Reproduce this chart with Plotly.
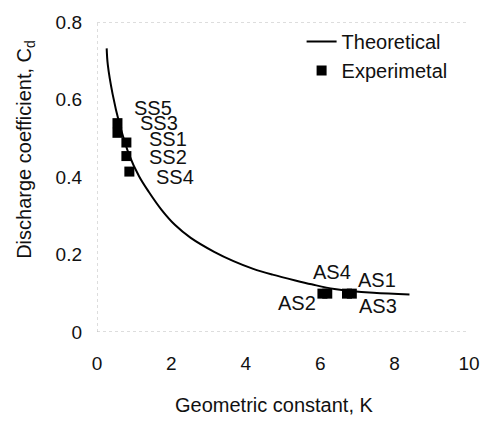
import plotly.graph_objects as go

# Theoretical curve
K_theo = [0.26, 0.29, 0.42, 0.6, 0.87, 1.13, 1.39, 1.73, 2.1, 2.52, 3.15, 3.67,
          4.2, 4.72, 5.33, 5.77, 6.38, 7.43, 8.4]
Cd_theo = [0.732, 0.69, 0.614, 0.539, 0.456, 0.402, 0.362, 0.316, 0.276, 0.243,
           0.207, 0.183, 0.163, 0.148, 0.133, 0.123, 0.111, 0.101, 0.097]

# Experimental points
exp_names = ["SS5", "SS3", "SS1", "SS2", "SS4", "AS2", "AS4", "AS1", "AS3"]
K_exp = [0.55, 0.55, 0.79, 0.79, 0.87, 6.06, 6.19, 6.72, 6.85]
Cd_exp = [0.539, 0.514, 0.489, 0.454, 0.414, 0.099, 0.099, 0.099, 0.099]

# Label positions (text placement)
lab_names = ["SS5", "SS3", "SS1", "SS2", "SS4", "AS4", "AS2", "AS1", "AS3"]
lab_x = [0.945, 1.10, 1.34, 1.34, 1.52, 5.75, 4.80, 6.96, 6.98]
lab_y = [0.577, 0.539, 0.497, 0.451, 0.399, 0.155, 0.075, 0.135, 0.068]

x_ticks = [0, 2, 4, 6, 8, 10]
y_ticks = [0, 0.2, 0.4, 0.6, 0.8]

FONT = "Liberation Sans, Arial, sans-serif"
TXT = "#111111"

fig = go.Figure()
fig.add_trace(go.Scatter(x=K_theo, y=Cd_theo, mode="lines", name="Theoretical",
                         line=dict(color="black", width=2, shape="spline", smoothing=1.0)))
fig.add_trace(go.Scatter(x=K_exp, y=Cd_exp, mode="markers", name="Experimetal",
                         marker=dict(symbol="square", size=10, color="black")))

for n, x, y in zip(lab_names, lab_x, lab_y):
    fig.add_annotation(x=x, y=y, text=n, showarrow=False, xanchor="left",
                       yanchor="middle", font=dict(family=FONT, size=20, color=TXT))

# faint dotted frame lines
for (x0, y0, x1, y1) in [(0, 0, 10, 0), (0, 0, 0, 0.8), (0, 0.8, 10, 0.8)]:
    fig.add_shape(type="line", x0=x0, y0=y0, x1=x1, y1=y1, xref="x", yref="y",
                  line=dict(color="#bbbbbb", width=1, dash="dot"), layer="below")

fig.add_annotation(xref="paper", yref="paper", x=(278 - 97) / 380, y=-(407 - 332) / 319,
                   text="Geometric constant, K", showarrow=False, xanchor="center",
                   yanchor="middle", font=dict(family=FONT, size=20, color=TXT))
fig.add_annotation(xref="paper", yref="paper", x=-(97 - 24) / 380, y=(332 - 144) / 319,
                   text="Discharge coefficient, C<sub>d</sub>", showarrow=False,
                   textangle=-90, xanchor="center", yanchor="middle",
                   font=dict(family=FONT, size=20, color=TXT))

fig.update_layout(
    width=492, height=425,
    margin=dict(l=97, r=15, t=13, b=93),
    paper_bgcolor="white", plot_bgcolor="white",
    font=dict(family=FONT, size=19, color=TXT),
    showlegend=True,
    legend=dict(x=(306 - 97) / 380, y=1.0, xanchor="left", yanchor="top",
                bgcolor="rgba(0,0,0,0)", font=dict(family=FONT, size=20, color=TXT),
                tracegroupgap=0),
    xaxis=dict(range=[0, 10], tickvals=x_ticks, ticktext=[str(v) for v in x_ticks],
               showgrid=False, zeroline=False, showline=False, ticks="",
               ticklabelstandoff=18, fixedrange=True),
    yaxis=dict(range=[0, 0.8], tickvals=y_ticks, ticktext=["0", "0.2", "0.4", "0.6", "0.8"],
               showgrid=False, zeroline=False, showline=False, ticks="",
               ticklabelstandoff=14, fixedrange=True),
)

fig.write_html("out.html")
